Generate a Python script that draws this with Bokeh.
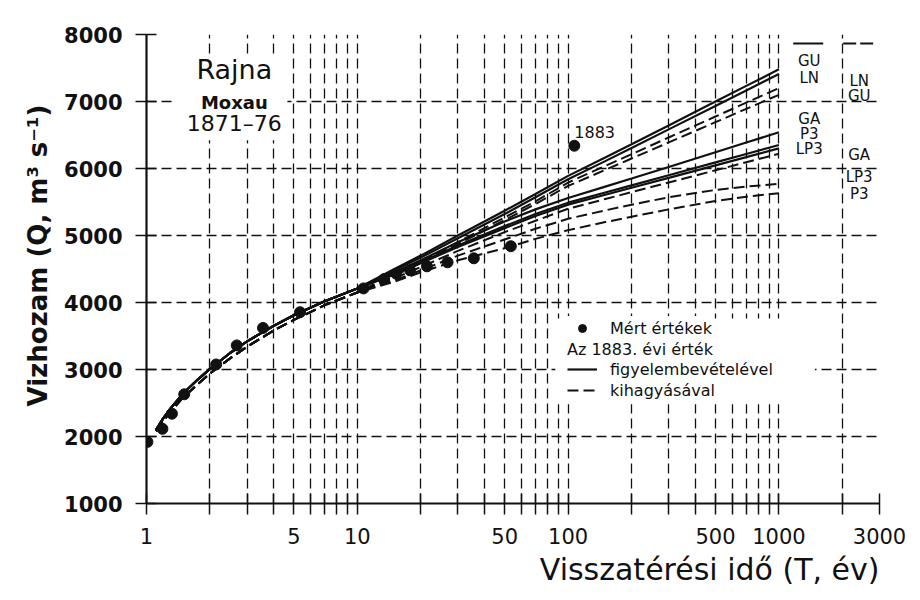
from bokeh.plotting import figure
from bokeh.models import (Range1d, FixedTicker, NumeralTickFormatter, Label, Legend,
                          LegendItem, Title, BoxAnnotation)
from bokeh.embed import file_html
from bokeh.resources import INLINE

# ---------------- data ----------------
# measured annual maxima (plotting positions)
T_pts = [1.01, 1.19, 1.32, 1.51, 2.14, 2.68, 3.57, 5.35, 10.7, 13.4, 15.3, 17.8, 21.4, 26.8, 35.7, 53.5, 107]
Q_pts = [1920, 2115, 2340, 2630, 3075, 3360, 3620, 3855, 4210, 4350, 4430, 4480, 4540, 4600, 4660, 4840, 6340]

# return periods at which the fitted curves were read
T_curve = [1.11, 1.2, 1.3, 1.5, 1.75, 2, 2.5, 3, 4, 5, 7, 10,
           15, 20, 30, 50, 70, 100, 150, 200, 300, 500, 700, 1000]

# fitted curves, 1883 value included (solid)
GU_with  = [2100, 2270, 2420, 2650, 2850, 3010, 3250, 3420, 3650, 3810, 4020, 4210,
            4500, 4700, 5000, 5370, 5620, 5890, 6165, 6362, 6643, 7000, 7233, 7480]
LN_with  = [2100, 2270, 2420, 2650, 2850, 3010, 3250, 3420, 3650, 3810, 4020, 4210,
            4480, 4670, 4960, 5320, 5570, 5840, 6110, 6306, 6584, 6934, 7165, 7410]
GA_with  = [2100, 2270, 2420, 2650, 2850, 3010, 3250, 3420, 3650, 3810, 4020, 4210,
            4450, 4630, 4900, 5210, 5390, 5560, 5730, 5850, 6022, 6242, 6387, 6540]
P3_with  = [2100, 2270, 2420, 2650, 2850, 3010, 3250, 3420, 3650, 3810, 4020, 4210,
            4430, 4600, 4850, 5140, 5320, 5490, 5641, 5749, 5900, 6091, 6217, 6350]
LP3_with = [2100, 2270, 2420, 2650, 2850, 3010, 3250, 3420, 3650, 3810, 4020, 4210,
            4420, 4585, 4830, 5110, 5290, 5460, 5608, 5713, 5861, 6047, 6170, 6300]

# fitted curves, 1883 value omitted (dashed)
LN_wo  = [2080, 2230, 2370, 2590, 2780, 2940, 3170, 3340, 3580, 3740, 3960, 4150,
          4420, 4610, 4900, 5270, 5510, 5790, 6038, 6214, 6463, 6776, 6982, 7200]
GU_wo  = [2080, 2230, 2370, 2590, 2780, 2940, 3170, 3340, 3580, 3740, 3960, 4150,
          4400, 4590, 4870, 5230, 5470, 5740, 5979, 6149, 6389, 6691, 6890, 7100]
GA_wo  = [2080, 2230, 2370, 2590, 2780, 2940, 3170, 3340, 3580, 3740, 3960, 4150,
          4360, 4530, 4770, 5050, 5220, 5400, 5544, 5647, 5791, 5973, 6093, 6220]
LP3_wo = [2080, 2230, 2370, 2590, 2780, 2940, 3170, 3340, 3580, 3740, 3960, 4150,
          4330, 4480, 4700, 4940, 5100, 5250, 5375, 5460, 5570, 5680, 5730, 5770]
P3_wo  = [2080, 2230, 2370, 2590, 2780, 2940, 3170, 3340, 3580, 3740, 3960, 4150,
          4310, 4450, 4630, 4810, 4950, 5080, 5200, 5280, 5390, 5515, 5580, 5630]

x_major = [1, 5, 10, 50, 100, 500, 1000, 3000]
x_minor = [2, 3, 4, 6, 7, 8, 9, 20, 30, 40, 60, 70, 80, 90,
           200, 300, 400, 600, 700, 800, 900, 2000]
y_ticks = [1000, 2000, 3000, 4000, 5000, 6000, 7000, 8000]

# curve end labels (text, anchor T, anchor Q)
lab_with_text = ["GU", "LN", "GA", "P3", "LP3"]
lab_with_Q = [7600, 7355, 6745, 6520, 6295]
lab_wo_text = ["LN", "GU", "GA", "LP3", "P3"]
lab_wo_Q = [7300, 7075, 6195, 5870, 5620]
lab_with_T = 1392
lab_wo_T = 2403

FONT = "DejaVu Sans"
INK = "#111111"

# ---------------- figure ----------------
p = figure(width=920, height=600, x_axis_type="log",
           x_range=Range1d(1, 3000), y_range=Range1d(1000, 8000),
           output_backend="svg", toolbar_location=None,
           min_border_left=146, min_border_right=41,
           min_border_top=34, min_border_bottom=97)
p.outline_line_color = None
p.background_fill_color = "white"
p.border_fill_color = "white"

xt = FixedTicker(ticks=x_major, minor_ticks=x_minor)
yt = FixedTicker(ticks=y_ticks)
p.xaxis.ticker = xt
p.yaxis.ticker = yt
p.xgrid.ticker = xt
p.ygrid.ticker = yt
p.xaxis.formatter = NumeralTickFormatter(format="0")
p.yaxis.formatter = NumeralTickFormatter(format="0")

for g in (p.xgrid, p.ygrid):
    g.grid_line_color = INK
    g.grid_line_width = 1.3
    g.grid_line_dash = "10 5"
p.xgrid.minor_grid_line_color = INK
p.xgrid.minor_grid_line_width = 1.3
p.xgrid.minor_grid_line_dash = "10 5"

for ax in (p.xaxis, p.yaxis):
    ax.axis_line_color = INK
    ax.axis_line_width = 2.2
    ax.major_tick_line_color = INK
    ax.major_tick_line_width = 1.5
    ax.major_tick_in = 10
    ax.major_tick_out = 11
    ax.major_label_standoff = 13
    ax.major_label_text_color = INK
    ax.major_label_text_font = FONT
p.xaxis.minor_tick_line_color = INK
p.xaxis.minor_tick_line_width = 1.5
p.xaxis.minor_tick_in = 10
p.xaxis.minor_tick_out = 11
p.yaxis.minor_tick_line_color = None
p.xaxis.major_label_text_font_size = "21px"
p.yaxis.major_label_text_font_size = "21px"
p.yaxis.major_label_text_font_style = "bold"

ytitle = Title(text="Vizhozam (Q, m\u00b3 s\u207b\u00b9)", align="left", offset=97,
               text_font=FONT, text_font_size="26px", text_font_style="bold",
               text_color=INK, standoff=18)
p.add_layout(ytitle, "left")

xtitle = Title(text="Visszatérési idő (T, év)", align="right",
               text_font=FONT, text_font_size="30px", text_font_style="normal",
               text_color=INK, standoff=6)
p.add_layout(xtitle, "below")

# white boxes that interrupt the grid behind the station name and the key
p.add_layout(BoxAnnotation(left=1.34, right=4.66, bottom=6420, top=7690,
                           fill_color="white", fill_alpha=1, line_alpha=0))
p.add_layout(BoxAnnotation(left=87, right=1480, bottom=2480, top=3760,
                           fill_color="white", fill_alpha=1, line_alpha=0))

# ---------------- curves ----------------
solid = dict(line_color=INK, line_width=2.2)
dashed = dict(line_color=INK, line_width=2.0, line_dash="11 5")
r_s = None
for ys in (GU_with, LN_with, GA_with, P3_with, LP3_with):
    r = p.line(T_curve, ys, **solid)
    r_s = r_s or r
r_d = None
for ys in (LN_wo, GU_wo, GA_wo, LP3_wo, P3_wo):
    r = p.line(T_curve, ys, **dashed)
    r_d = r_d or r

r_pts = p.scatter(T_pts, Q_pts, size=11, color=INK)

# header keys above the label columns
p.line([1169, 1622], [7866, 7866], line_color=INK, line_width=2.2)
p.line([2018, 2800], [7866, 7866], line_color=INK, line_width=2.0, line_dash="13 4")

# ---------------- key (three stacked legends) ----------------
r_blank = p.line([], [], line_alpha=0)
common = dict(orientation="vertical", label_text_font=FONT, label_text_font_size="16px",
              label_text_color=INK, glyph_height=20, label_height=20,
              spacing=1, padding=2, margin=0, border_line_alpha=0,
              background_fill_color="white", background_fill_alpha=1)
leg1 = Legend(items=[LegendItem(label="Mért értékek", renderers=[r_pts])],
              location=(419, 163), glyph_width=30, label_standoff=13, **common)
leg2 = Legend(items=[LegendItem(label="Az 1883. évi érték", renderers=[r_blank])],
              location=(419, 142), glyph_width=0, label_standoff=0, **common)
leg3 = Legend(items=[LegendItem(label="figyelembevételével", renderers=[r_s]),
                     LegendItem(label="kihagyásával", renderers=[r_d])],
              location=(419, 101), glyph_width=30, label_standoff=13, **common)
for lg in (leg1, leg2, leg3):
    p.add_layout(lg, "center")

# ---------------- texts ----------------
p.add_layout(Label(x=2.61, y=7480, text="Rajna", text_align="center", text_baseline="middle",
                   text_font=FONT, text_font_size="27px", text_color=INK, level="overlay"))
p.add_layout(Label(x=2.61, y=6990, text="Moxau", text_align="center", text_baseline="middle",
                   text_font=FONT, text_font_size="18px", text_font_style="bold", text_color=INK,
                   level="overlay"))
p.add_layout(Label(x=2.61, y=6670, text="1871–76", text_align="center", text_baseline="middle",
                   text_font=FONT, text_font_size="22px", text_color=INK, level="overlay"))

p.add_layout(Label(x=T_pts[-1], y=Q_pts[-1], x_offset=0, y_offset=8, text="1883",
                   text_align="left", text_baseline="bottom",
                   text_font=FONT, text_font_size="16px", text_color=INK))

for t, q in zip(lab_with_text, lab_with_Q):
    p.add_layout(Label(x=lab_with_T, y=q, text=t, text_align="center", text_baseline="middle",
                       text_font=FONT, text_font_size="15px", text_color=INK))
for t, q in zip(lab_wo_text, lab_wo_Q):
    p.add_layout(Label(x=lab_wo_T, y=q, text=t, text_align="center", text_baseline="middle",
                       text_font=FONT, text_font_size="15px", text_color=INK))

open("out.html", "w").write(file_html(p, INLINE))
